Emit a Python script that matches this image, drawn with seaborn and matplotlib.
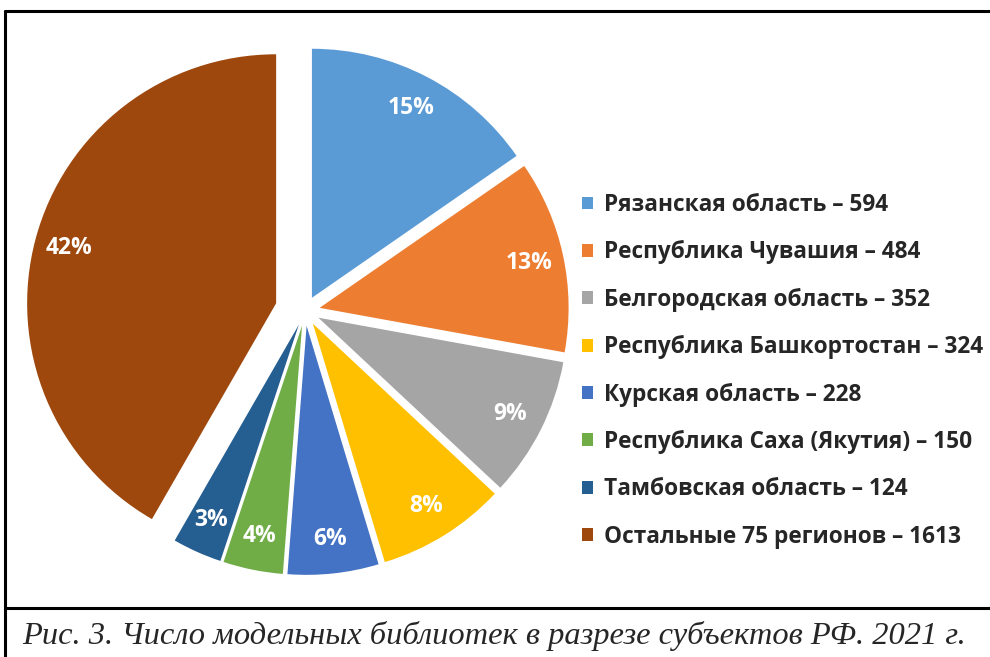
import matplotlib.pyplot as plt
from matplotlib.lines import Line2D
import seaborn as sns

regions = [
    "Рязанская область",
    "Республика Чувашия",
    "Белгородская область",
    "Республика Башкортостан",
    "Курская область",
    "Республика Саха (Якутия)",
    "Тамбовская область",
    "Остальные 75 регионов",
]
libraries = [594, 484, 352, 324, 228, 150, 124, 1613]
slice_colors = ["#5B9BD5", "#ED7D31", "#A5A5A5", "#FFC000", "#4472C4", "#70AD47", "#255E91", "#9E480E"]
caption = "Рис. 3. Число модельных библиотек в разрезе субъектов РФ. 2021 г."

sns.set_theme(style="white")
plt.rcParams["font.family"] = ["Open Sans", "DejaVu Sans"]

W, H = 990, 657
fig = plt.figure(figsize=(W / 100, H / 100), dpi=100)
fig.patch.set_facecolor("white")

# pie centre (305, 311) px, radius 249 px
cx, cy, r, half = 305, 311, 249, 300
ax = fig.add_axes([(cx - half) / W, (H - cy - half) / H, 2 * half / W, 2 * half / H])
explode = [0.06] * 7 + [0.12]
wedges, _, pct_texts = ax.pie(
    libraries,
    colors=sns.color_palette(slice_colors),
    startangle=90,
    counterclock=False,
    explode=explode,
    autopct="%1.0f%%",
    pctdistance=0.86,
    wedgeprops={"linewidth": 0},
    textprops={"color": "white", "fontsize": 16.5, "fontweight": "bold"},
)
lim = half / r
ax.set_xlim(-lim, lim)
ax.set_ylim(-lim, lim)
ax.set_axis_off()

labels = [f"{name} – {n}" for name, n in zip(regions, libraries)]
fig.legend(
    wedges,
    labels,
    loc="upper left",
    bbox_to_anchor=(573 / W, 1 - 184 / H),
    frameon=False,
    prop={"weight": "bold", "size": 16.3},
    handlelength=0.5,
    handleheight=0.5,
    handletextpad=0.45,
    labelspacing=1.03,
    borderaxespad=0,
)

# frame and caption separator
lw = 2.2
fig.add_artist(Line2D([5 / W, 1], [1 - 10.5 / H, 1 - 10.5 / H], color="black", lw=lw))
fig.add_artist(Line2D([5 / W, 5 / W], [0, 1 - 10.5 / H], color="black", lw=lw))
fig.add_artist(Line2D([5 / W, 1], [1 - 608 / H, 1 - 608 / H], color="black", lw=lw))

fig.text(22 / W, 1 - 636 / H, caption, ha="left", va="center",
         family=["Liberation Serif", "DejaVu Serif"], style="italic", fontsize=23.4)

fig.savefig("out.png", dpi=100)
